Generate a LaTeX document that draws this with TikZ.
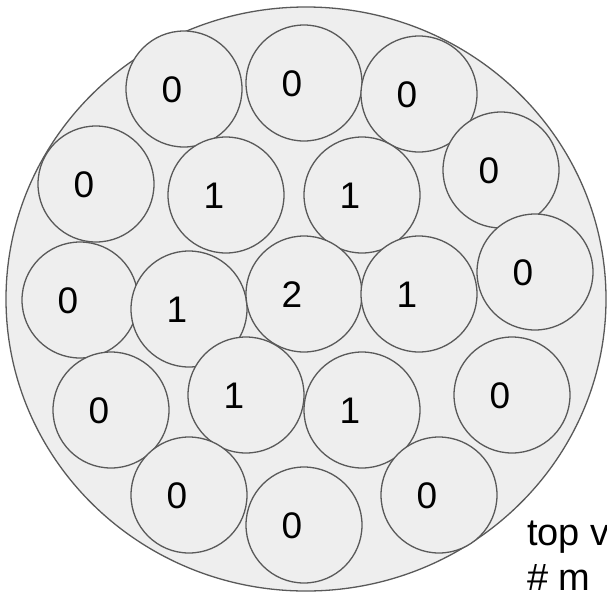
\documentclass[tikz,border=0pt]{standalone}
\usepackage{fontspec}
\setmainfont{Liberation Sans}
\usepackage{xcolor}
\definecolor{cellfill}{HTML}{EEEEEE}
\definecolor{celledge}{HTML}{595959}

\tikzset{
  cell/.style={circle, draw=celledge, fill=cellfill, line width=1.3pt,
    minimum size=116pt, inner sep=0pt},
  num/.style={font=\fontsize{37}{44}\selectfont, inner sep=0pt,
    xshift=-12pt, yshift=-1pt},
}

\begin{document}
\begin{tikzpicture}[x=1pt, y=-1pt]
  % picture in pixel units, y grows downward
  \useasboundingbox (0,0) rectangle (607,592);
  % outer disc, runs past the right and bottom edges
  \draw[draw=celledge, fill=cellfill, line width=1.3pt] (306,299) ellipse [x radius=300, y radius=292];
  % top row
  \node[cell, label={[num]center:0}] (c01) at (184,89) {};
  \node[cell, label={[num]center:0}] (c02) at (304,83) {};
  \node[cell, label={[num]center:0}] (c03) at (419,94) {};
  % second row
  \node[cell, label={[num]center:0}] (c04) at (96,184) {};
  \node[cell, label={[num]center:1}] (c05) at (226,195) {};
  \node[cell, label={[num]center:1}] (c06) at (362,195) {};
  \node[cell, label={[num]center:0}] (c07) at (501,170) {};
  % middle row
  \node[cell, label={[num]center:0}] (c08) at (535,272) {};
  \node[cell, label={[num]center:0}] (c09) at (80,300) {};
  \node[cell, label={[num]center:1}] (c10) at (189,309) {};
  \node[cell, label={[num]center:2}] (c11) at (304,294) {};
  \node[cell, label={[num]center:1}] (c12) at (419,294) {};
  % fourth row
  \node[cell, label={[num]center:0}] (c13) at (111,410) {};
  \node[cell, label={[num]center:1}] (c14) at (246,395) {};
  \node[cell, label={[num]center:1}] (c15) at (362,410) {};
  \node[cell, label={[num]center:0}] (c16) at (512,395) {};
  % bottom row
  \node[cell, label={[num]center:0}] (c17) at (189,495) {};
  \node[cell, label={[num]center:0}] (c18) at (304,525) {};
  \node[cell, label={[num]center:0}] (c19) at (439,495) {};
  % caption, cut by the right and bottom edges (base = last line)
  \node[anchor=base west, inner sep=0pt, align=left,
    font=\fontsize{38}{45}\selectfont] (caption) at (527,590) {top v\\\# m};
\end{tikzpicture}
\end{document}
